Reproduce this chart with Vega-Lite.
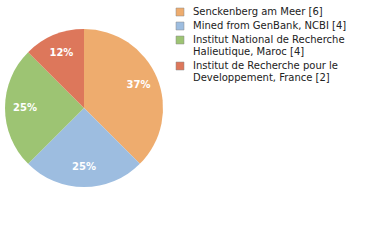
{
  "$schema": "https://vega.github.io/schema/vega-lite/v6.json",
  "width": 158,
  "height": 206,
  "padding": 5,
  "background": "white",
  "data": {
    "values": [
      {"source": "Senckenberg am Meer [6]", "count": 6, "pct": "37%", "rank": 1},
      {"source": "Mined from GenBank, NCBI [4]", "count": 4, "pct": "25%", "rank": 2},
      {"source": "Institut National de Recherche Halieutique, Maroc [4]", "count": 4, "pct": "25%", "rank": 3},
      {"source": "Institut de Recherche pour le Developpement, France [2]", "count": 2, "pct": "12%", "rank": 4}
    ]
  },
  "encoding": {
    "theta": {"field": "count", "type": "quantitative", "stack": true},
    "order": {"field": "rank", "type": "quantitative"},
    "color": {
      "field": "source",
      "type": "nominal",
      "sort": null,
      "scale": {
        "domain": ["Senckenberg am Meer [6]", "Mined from GenBank, NCBI [4]", "Institut National de Recherche Halieutique, Maroc [4]", "Institut de Recherche pour le Developpement, France [2]"],
        "range": ["#eeac6e", "#9dbde0", "#9dc473", "#dd775b"]
      },
      "legend": {
        "title": null,
        "orient": "right",
        "offset": 10,
        "padding": 2,
        "symbolType": "square",
        "symbolSize": 64,
        "symbolStrokeWidth": 0.5,
        "symbolStrokeColor": "#888888",
        "labelFont": "DejaVu Sans",
        "labelFontSize": 10,
        "labelColor": "#222222",
        "labelLimit": 300,
        "labelOffset": 8,
        "rowPadding": 4,
        "labelLineHeight": 13,
        "labelExpr": "datum.label == 'Institut National de Recherche Halieutique, Maroc [4]' ? ['Institut National de Recherche', 'Halieutique, Maroc [4]'] : datum.label == 'Institut de Recherche pour le Developpement, France [2]' ? ['Institut de Recherche pour le', 'Developpement, France [2]'] : datum.label"
      }
    }
  },
  "layer": [
    {"mark": {"type": "arc", "outerRadius": 79}},
    {
      "mark": {"type": "text", "radius": 59, "fill": "white", "font": "DejaVu Sans", "fontSize": 10, "fontWeight": "bold"},
      "encoding": {"text": {"field": "pct"}, "color": {"value": "white"}}
    }
  ],
  "config": {"view": {"stroke": null}}
}
